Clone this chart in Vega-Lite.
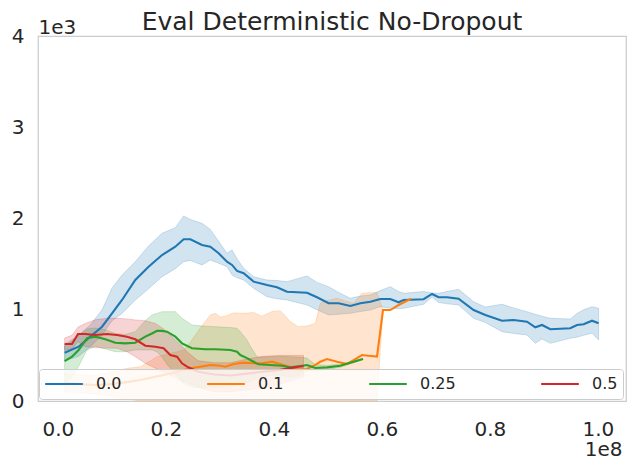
{
  "$schema": "https://vega.github.io/schema/vega-lite/v6.json",
  "width": 588,
  "height": 365,
  "autosize": {"type": "none"},
  "padding": {"left": 38, "top": 36, "right": 9, "bottom": 73},
  "background": "white",
  "title": {
    "text": "Eval Deterministic No-Dropout",
    "fontSize": 25,
    "font": "DejaVu Sans",
    "fontWeight": "normal",
    "color": "#262626",
    "anchor": "middle",
    "frame": "group",
    "baseline": "alphabetic",
    "offset": 0,
    "dy": 38
  },
  "data": {
    "values": [
      {"s": "0.0", "x": 1260000, "y": 529, "lo": 440, "hi": 620},
      {"s": "0.0", "x": 3850000, "y": 595, "lo": 490, "hi": 720},
      {"s": "0.0", "x": 6020000, "y": 705, "lo": 595, "hi": 833},
      {"s": "0.0", "x": 8190000, "y": 814, "lo": 720, "hi": 1000},
      {"s": "0.0", "x": 10040000, "y": 961, "lo": 880, "hi": 1238},
      {"s": "0.0", "x": 11890000, "y": 1107, "lo": 960, "hi": 1380},
      {"s": "0.0", "x": 14350000, "y": 1326, "lo": 1107, "hi": 1527},
      {"s": "0.0", "x": 16810000, "y": 1472, "lo": 1230, "hi": 1700},
      {"s": "0.0", "x": 19300000, "y": 1600, "lo": 1362, "hi": 1838},
      {"s": "0.0", "x": 21760000, "y": 1691, "lo": 1450, "hi": 1900},
      {"s": "0.0", "x": 23300000, "y": 1772, "lo": 1527, "hi": 2028},
      {"s": "0.0", "x": 24540000, "y": 1772, "lo": 1540, "hi": 1990},
      {"s": "0.0", "x": 26700000, "y": 1710, "lo": 1491, "hi": 1947},
      {"s": "0.0", "x": 28240000, "y": 1691, "lo": 1545, "hi": 1880},
      {"s": "0.0", "x": 29780000, "y": 1619, "lo": 1510, "hi": 1750},
      {"s": "0.0", "x": 31330000, "y": 1527, "lo": 1472, "hi": 1619},
      {"s": "0.0", "x": 32260000, "y": 1491, "lo": 1381, "hi": 1655},
      {"s": "0.0", "x": 33190000, "y": 1425, "lo": 1350, "hi": 1560},
      {"s": "0.0", "x": 34410000, "y": 1400, "lo": 1326, "hi": 1454},
      {"s": "0.0", "x": 36260000, "y": 1308, "lo": 1235, "hi": 1362},
      {"s": "0.0", "x": 38740000, "y": 1271, "lo": 1143, "hi": 1326},
      {"s": "0.0", "x": 40590000, "y": 1246, "lo": 1120, "hi": 1320},
      {"s": "0.0", "x": 42440000, "y": 1198, "lo": 1107, "hi": 1308},
      {"s": "0.0", "x": 46150000, "y": 1187, "lo": 1052, "hi": 1370},
      {"s": "0.0", "x": 48000000, "y": 1137, "lo": 1000, "hi": 1300},
      {"s": "0.0", "x": 50150000, "y": 1071, "lo": 943, "hi": 1253},
      {"s": "0.0", "x": 52000000, "y": 1071, "lo": 950, "hi": 1190},
      {"s": "0.0", "x": 54170000, "y": 1041, "lo": 961, "hi": 1126},
      {"s": "0.0", "x": 56020000, "y": 1071, "lo": 980, "hi": 1150},
      {"s": "0.0", "x": 57870000, "y": 1088, "lo": 997, "hi": 1162},
      {"s": "0.0", "x": 59720000, "y": 1118, "lo": 1034, "hi": 1210},
      {"s": "0.0", "x": 61570000, "y": 1118, "lo": 1016, "hi": 1253},
      {"s": "0.0", "x": 63110000, "y": 1082, "lo": 1010, "hi": 1200},
      {"s": "0.0", "x": 64040000, "y": 1107, "lo": 1016, "hi": 1180},
      {"s": "0.0", "x": 67740000, "y": 1115, "lo": 1060, "hi": 1200},
      {"s": "0.0", "x": 69300000, "y": 1173, "lo": 1140, "hi": 1184},
      {"s": "0.0", "x": 70520000, "y": 1137, "lo": 1080, "hi": 1180},
      {"s": "0.0", "x": 72070000, "y": 1137, "lo": 1065, "hi": 1200},
      {"s": "0.0", "x": 74220000, "y": 1121, "lo": 1052, "hi": 1224},
      {"s": "0.0", "x": 77000000, "y": 997, "lo": 906, "hi": 1088},
      {"s": "0.0", "x": 79170000, "y": 943, "lo": 860, "hi": 1030},
      {"s": "0.0", "x": 82260000, "y": 880, "lo": 760, "hi": 1060},
      {"s": "0.0", "x": 84410000, "y": 888, "lo": 740, "hi": 1020},
      {"s": "0.0", "x": 86890000, "y": 869, "lo": 723, "hi": 979},
      {"s": "0.0", "x": 88430000, "y": 808, "lo": 632, "hi": 950},
      {"s": "0.0", "x": 89670000, "y": 833, "lo": 680, "hi": 930},
      {"s": "0.0", "x": 91200000, "y": 786, "lo": 632, "hi": 906},
      {"s": "0.0", "x": 94900000, "y": 797, "lo": 687, "hi": 899},
      {"s": "0.0", "x": 96150000, "y": 833, "lo": 700, "hi": 960},
      {"s": "0.0", "x": 97370000, "y": 841, "lo": 720, "hi": 1000},
      {"s": "0.0", "x": 98930000, "y": 880, "lo": 742, "hi": 1034},
      {"s": "0.0", "x": 100150000, "y": 852, "lo": 669, "hi": 1016},

      {"s": "0.1", "x": 1260000, "y": 200, "lo": 100, "hi": 300},
      {"s": "0.1", "x": 4000000, "y": 185, "lo": 90, "hi": 290},
      {"s": "0.1", "x": 7000000, "y": 175, "lo": 80, "hi": 280},
      {"s": "0.1", "x": 10000000, "y": 185, "lo": 50, "hi": 320},
      {"s": "0.1", "x": 13000000, "y": 210, "lo": 20, "hi": 360},
      {"s": "0.1", "x": 15300000, "y": 230, "lo": 0, "hi": 376},
      {"s": "0.1", "x": 18400000, "y": 270, "lo": 0, "hi": 486},
      {"s": "0.1", "x": 21500000, "y": 310, "lo": 0, "hi": 530},
      {"s": "0.1", "x": 23300000, "y": 340, "lo": 0, "hi": 559},
      {"s": "0.1", "x": 24500000, "y": 358, "lo": 0, "hi": 640},
      {"s": "0.1", "x": 26390000, "y": 376, "lo": 0, "hi": 800},
      {"s": "0.1", "x": 28240000, "y": 395, "lo": 0, "hi": 943},
      {"s": "0.1", "x": 29170000, "y": 392, "lo": 0, "hi": 961},
      {"s": "0.1", "x": 30090000, "y": 387, "lo": 0, "hi": 920},
      {"s": "0.1", "x": 31020000, "y": 376, "lo": 0, "hi": 930},
      {"s": "0.1", "x": 32550000, "y": 406, "lo": 0, "hi": 965},
      {"s": "0.1", "x": 34410000, "y": 420, "lo": 0, "hi": 961},
      {"s": "0.1", "x": 36260000, "y": 413, "lo": 0, "hi": 970},
      {"s": "0.1", "x": 37810000, "y": 413, "lo": 0, "hi": 930},
      {"s": "0.1", "x": 39670000, "y": 431, "lo": 0, "hi": 980},
      {"s": "0.1", "x": 41200000, "y": 406, "lo": 0, "hi": 990},
      {"s": "0.1", "x": 43060000, "y": 369, "lo": 0, "hi": 870},
      {"s": "0.1", "x": 44500000, "y": 345, "lo": 0, "hi": 814},
      {"s": "0.1", "x": 46150000, "y": 350, "lo": 0, "hi": 822},
      {"s": "0.1", "x": 47690000, "y": 395, "lo": 0, "hi": 851},
      {"s": "0.1", "x": 48600000, "y": 430, "lo": 0, "hi": 1071},
      {"s": "0.1", "x": 49850000, "y": 460, "lo": 0, "hi": 1100},
      {"s": "0.1", "x": 51700000, "y": 431, "lo": 0, "hi": 1126},
      {"s": "0.1", "x": 53560000, "y": 406, "lo": 0, "hi": 1090},
      {"s": "0.1", "x": 54780000, "y": 449, "lo": 0, "hi": 1071},
      {"s": "0.1", "x": 56330000, "y": 504, "lo": 0, "hi": 1180},
      {"s": "0.1", "x": 57560000, "y": 496, "lo": 0, "hi": 1187},
      {"s": "0.1", "x": 59110000, "y": 486, "lo": 0, "hi": 1187},
      {"s": "0.1", "x": 60220000, "y": 997, "lo": 997, "hi": 997},
      {"s": "0.1", "x": 61570000, "y": 997, "lo": 997, "hi": 997},
      {"s": "0.1", "x": 63110000, "y": 1052, "lo": 1052, "hi": 1052},
      {"s": "0.1", "x": 65400000, "y": 1121, "lo": 1121, "hi": 1121},

      {"s": "0.25", "x": 1260000, "y": 438, "lo": 200, "hi": 600},
      {"s": "0.25", "x": 2630000, "y": 486, "lo": 260, "hi": 660},
      {"s": "0.25", "x": 3850000, "y": 559, "lo": 380, "hi": 720},
      {"s": "0.25", "x": 5410000, "y": 687, "lo": 560, "hi": 790},
      {"s": "0.25", "x": 6940000, "y": 705, "lo": 600, "hi": 800},
      {"s": "0.25", "x": 8800000, "y": 676, "lo": 570, "hi": 780},
      {"s": "0.25", "x": 10650000, "y": 639, "lo": 540, "hi": 740},
      {"s": "0.25", "x": 12500000, "y": 632, "lo": 540, "hi": 730},
      {"s": "0.25", "x": 14350000, "y": 639, "lo": 560, "hi": 760},
      {"s": "0.25", "x": 16200000, "y": 705, "lo": 560, "hi": 880},
      {"s": "0.25", "x": 17440000, "y": 740, "lo": 560, "hi": 943},
      {"s": "0.25", "x": 18370000, "y": 770, "lo": 540, "hi": 960},
      {"s": "0.25", "x": 19300000, "y": 768, "lo": 480, "hi": 979},
      {"s": "0.25", "x": 20220000, "y": 760, "lo": 400, "hi": 979},
      {"s": "0.25", "x": 21760000, "y": 705, "lo": 300, "hi": 979},
      {"s": "0.25", "x": 23000000, "y": 632, "lo": 200, "hi": 906},
      {"s": "0.25", "x": 24850000, "y": 578, "lo": 150, "hi": 833},
      {"s": "0.25", "x": 27310000, "y": 567, "lo": 150, "hi": 820},
      {"s": "0.25", "x": 29170000, "y": 567, "lo": 150, "hi": 814},
      {"s": "0.25", "x": 31940000, "y": 559, "lo": 160, "hi": 805},
      {"s": "0.25", "x": 33190000, "y": 540, "lo": 170, "hi": 797},
      {"s": "0.25", "x": 33800000, "y": 504, "lo": 180, "hi": 760},
      {"s": "0.25", "x": 35040000, "y": 470, "lo": 200, "hi": 669},
      {"s": "0.25", "x": 35650000, "y": 449, "lo": 220, "hi": 600},
      {"s": "0.25", "x": 36890000, "y": 410, "lo": 250, "hi": 486},
      {"s": "0.25", "x": 37190000, "y": 402, "lo": 260, "hi": 480},
      {"s": "0.25", "x": 39350000, "y": 395, "lo": 280, "hi": 486},
      {"s": "0.25", "x": 41520000, "y": 387, "lo": 280, "hi": 490},
      {"s": "0.25", "x": 43060000, "y": 369, "lo": 260, "hi": 486},
      {"s": "0.25", "x": 44910000, "y": 384, "lo": 280, "hi": 480},
      {"s": "0.25", "x": 46150000, "y": 395, "lo": 330, "hi": 470},
      {"s": "0.25", "x": 47690000, "y": 362, "lo": 330, "hi": 400},
      {"s": "0.25", "x": 49850000, "y": 369, "lo": 345, "hi": 390},
      {"s": "0.25", "x": 52310000, "y": 387, "lo": 370, "hi": 405},
      {"s": "0.25", "x": 53850000, "y": 413, "lo": 400, "hi": 425},
      {"s": "0.25", "x": 55410000, "y": 442, "lo": 430, "hi": 455},
      {"s": "0.25", "x": 56520000, "y": 460, "lo": 455, "hi": 465},

      {"s": "0.5", "x": 1260000, "y": 625, "lo": 560, "hi": 690},
      {"s": "0.5", "x": 2630000, "y": 625, "lo": 570, "hi": 720},
      {"s": "0.5", "x": 3740000, "y": 734, "lo": 650, "hi": 810},
      {"s": "0.5", "x": 5090000, "y": 734, "lo": 595, "hi": 850},
      {"s": "0.5", "x": 6940000, "y": 723, "lo": 585, "hi": 890},
      {"s": "0.5", "x": 9110000, "y": 734, "lo": 580, "hi": 906},
      {"s": "0.5", "x": 10960000, "y": 723, "lo": 578, "hi": 906},
      {"s": "0.5", "x": 12810000, "y": 705, "lo": 540, "hi": 900},
      {"s": "0.5", "x": 14350000, "y": 676, "lo": 486, "hi": 888},
      {"s": "0.5", "x": 16200000, "y": 606, "lo": 413, "hi": 880},
      {"s": "0.5", "x": 18060000, "y": 595, "lo": 360, "hi": 850},
      {"s": "0.5", "x": 19590000, "y": 578, "lo": 320, "hi": 790},
      {"s": "0.5", "x": 20830000, "y": 504, "lo": 280, "hi": 720},
      {"s": "0.5", "x": 22070000, "y": 486, "lo": 250, "hi": 650},
      {"s": "0.5", "x": 23000000, "y": 413, "lo": 220, "hi": 600},
      {"s": "0.5", "x": 23930000, "y": 376, "lo": 200, "hi": 540},
      {"s": "0.5", "x": 26000000, "y": 320, "lo": 150, "hi": 440},
      {"s": "0.5", "x": 29000000, "y": 290, "lo": 100, "hi": 420},
      {"s": "0.5", "x": 32000000, "y": 280, "lo": 100, "hi": 420},
      {"s": "0.5", "x": 35000000, "y": 300, "lo": 120, "hi": 460},
      {"s": "0.5", "x": 38000000, "y": 320, "lo": 150, "hi": 490},
      {"s": "0.5", "x": 41000000, "y": 340, "lo": 180, "hi": 500},
      {"s": "0.5", "x": 43000000, "y": 360, "lo": 220, "hi": 500},
      {"s": "0.5", "x": 44500000, "y": 376, "lo": 250, "hi": 500},
      {"s": "0.5", "x": 45500000, "y": 380, "lo": 260, "hi": 500}
    ]
  },
  "encoding": {
    "x": {
      "field": "x",
      "type": "quantitative",
      "scale": {"domain": [-3670000, 105220000], "nice": false, "zero": false},
      "axis": {
        "values": [0, 20000000, 40000000, 60000000, 80000000, 100000000],
        "labelExpr": "format(datum.value / 1e8, '.1f')",
        "title": "1e8",
        "titleX": 584,
        "titleY": 54,
        "titleAlign": "right",
        "titleAnchor": null,
        "titleBaseline": "alphabetic",
        "labelPadding": 18
      }
    },
    "color": {
      "field": "s",
      "type": "nominal",
      "scale": {
        "domain": ["0.0", "0.1", "0.25", "0.5"],
        "range": ["#1f77b4", "#ff7f0e", "#2ca02c", "#d62728"]
      }
    }
  },
  "layer": [
    {
      "mark": {"type": "area", "fillOpacity": 0.2, "strokeWidth": 1, "strokeOpacity": 0.2, "clip": true},
      "encoding": {
        "y": {
          "field": "lo",
          "type": "quantitative",
          "scale": {"domain": [0, 4000], "nice": false},
          "axis": {
            "values": [0, 1000, 2000, 3000, 4000],
            "labelExpr": "format(datum.value / 1000, 'd')",
            "title": "1e3",
            "titleAngle": 0,
            "titleX": 0,
            "titleY": -3,
            "titleAlign": "left",
            "titleAnchor": null,
            "titleBaseline": "alphabetic",
            "labelPadding": 14,
            "labelBaseline": "middle",
            "labelDy": 3
          }
        },
        "y2": {"field": "hi"},
        "color": {"field": "s", "type": "nominal", "legend": null},
        "stroke": {
          "field": "s",
          "type": "nominal",
          "legend": null,
          "scale": {
            "domain": ["0.0", "0.1", "0.25", "0.5"],
            "range": ["#1f77b4", "#ff7f0e", "#2ca02c", "#d62728"]
          }
        }
      }
    },
    {
      "mark": {"type": "line", "strokeWidth": 2.1, "clip": true},
      "encoding": {
        "y": {"field": "y", "type": "quantitative"},
        "color": {
          "field": "s",
          "type": "nominal",
          "legend": {
            "orient": "none",
            "legendX": 1,
            "legendY": 333,
            "direction": "horizontal",
            "columns": 4,
            "title": null,
            "symbolType": "stroke",
            "symbolSize": 1421,
            "symbolStrokeWidth": 2.1,
            "labelFontSize": 16,
            "labelOffset": 12,
            "columnPadding": 84,
            "padding": 5,
            "clipHeight": 20,
            "fillColor": "rgba(255,255,255,0.8)",
            "strokeColor": "#cccccc",
            "cornerRadius": 3,
            "zindex": 1
          }
        }
      }
    }
  ],
  "resolve": {"legend": {"color": "independent", "stroke": "independent"}},
  "config": {
    "font": "DejaVu Sans",
    "view": {"stroke": "#cccccc", "strokeWidth": 1.25},
    "axis": {
      "domain": false,
      "ticks": false,
      "tickSize": 0,
      "grid": false,
      "labelFont": "DejaVu Sans",
      "labelFontSize": 20,
      "labelColor": "#262626",
      "labelFlush": false,
      "titleFont": "DejaVu Sans",
      "titleFontSize": 20,
      "titleFontWeight": "normal",
      "titleColor": "#262626"
    },
    "legend": {
      "labelFont": "DejaVu Sans",
      "labelColor": "#262626"
    }
  }
}
